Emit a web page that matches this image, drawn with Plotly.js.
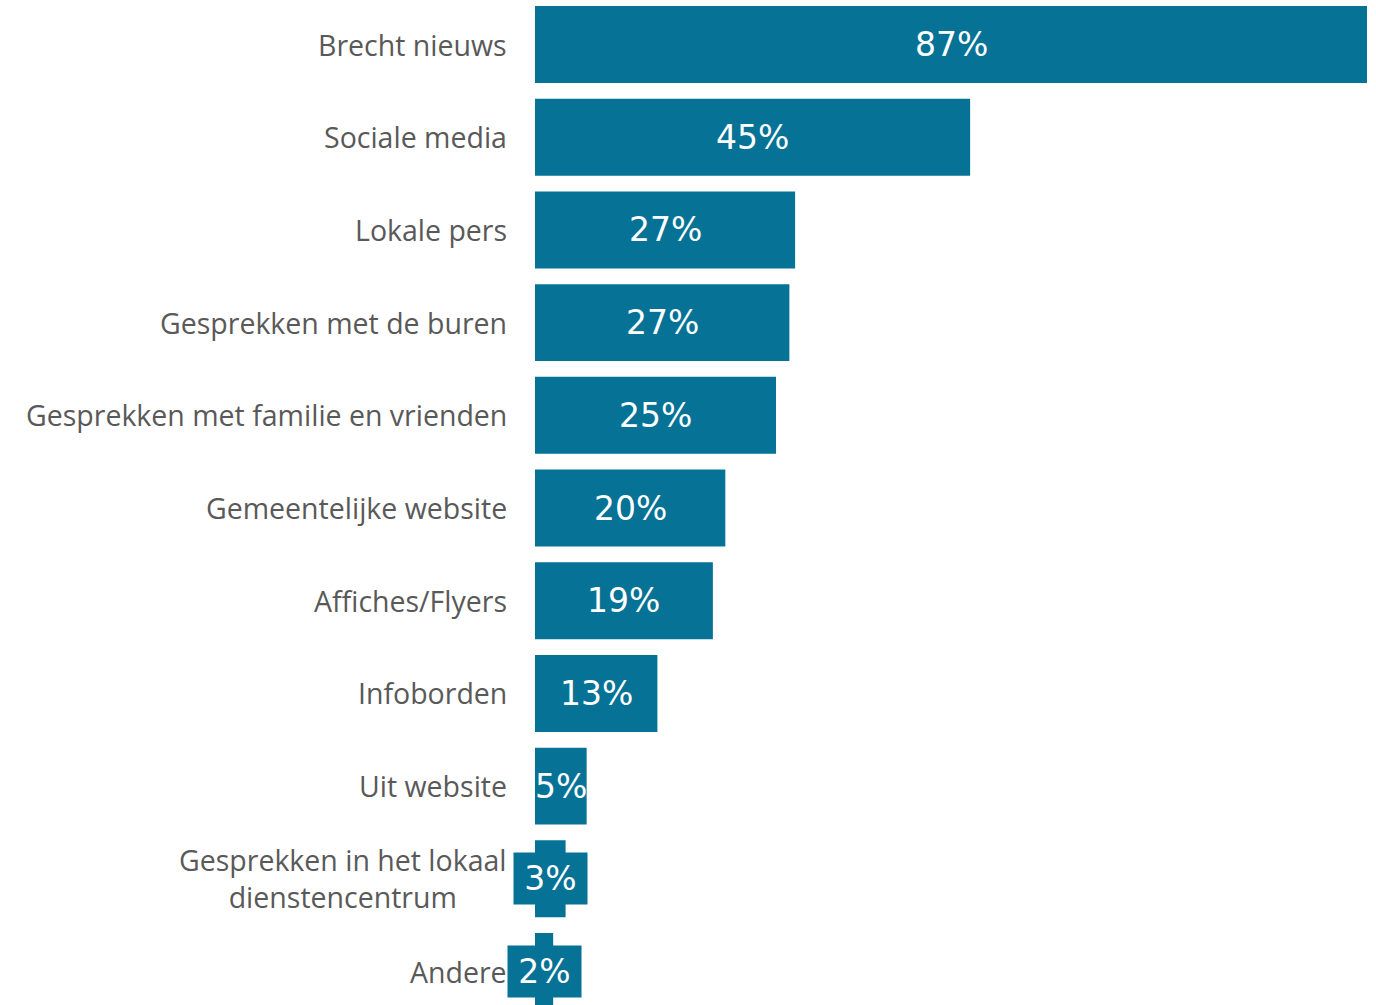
<!DOCTYPE html>
<html>
<head>
<meta charset="utf-8">
<script src="https://cdn.plot.ly/plotly-3.0.1.min.js"></script>
<style>html,body{margin:0;padding:0;background:#fff;overflow:hidden}#chart{width:1376px;height:1005px}</style>
</head>
<body>
<div id="chart"></div>
<script>
const categories = [
  "Brecht nieuws",
  "Sociale media",
  "Lokale pers",
  "Gesprekken met de buren",
  "Gesprekken met familie en vrienden",
  "Gemeentelijke website",
  "Affiches/Flyers",
  "Infoborden",
  "Uit website",
  "Gesprekken in het lokaal<br>dienstencentrum",
  "Andere"
];
const values = [87, 45.5, 27.2, 26.6, 25.2, 19.9, 18.6, 12.8, 5.4, 3.2, 1.9];
const valueLabels = ["87%", "45%", "27%", "27%", "25%", "20%", "19%", "13%", "5%", "3%", "2%"];

const barColor = "#067296";
const ids = categories.map((c, i) => i);

const trace = {
  type: "bar",
  orientation: "h",
  x: values,
  y: ids,
  marker: {color: barColor, line: {width: 0}},
  hoverinfo: "none"
};

const annotations = [];
categories.forEach((c, i) => {
  annotations.push({
    xref: "paper", yref: "y", x: 0, y: i,
    xanchor: "right", yanchor: "middle", xshift: -26,
    text: c, showarrow: false, align: "center",
    font: {family: "Open Sans, sans-serif", size: 28.5, color: "#595959"}
  });
  const small = values[i] < 4;
  const a = {
    xref: "x", yref: "y", x: values[i] / 2, y: i,
    xanchor: "center", yanchor: "middle",
    text: valueLabels[i], showarrow: false,
    font: {family: "DejaVu Sans, sans-serif", size: 33, color: "#ffffff"}
  };
  if (small) {
    a.bgcolor = barColor;
    a.width = 73;
    a.height = 51;
    a.borderpad = 0;
  }
  annotations.push(a);
});

const layout = {
  width: 1376, height: 1005,
  margin: {l: 535, r: 9, t: 0, b: 0, pad: 0},
  paper_bgcolor: "#ffffff", plot_bgcolor: "#ffffff",
  showlegend: false,
  bargap: 0.17,
  xaxis: {range: [0, 87], visible: false, fixedrange: true},
  yaxis: {type: "linear", range: [10.361, -0.48], visible: false, fixedrange: true},
  annotations: annotations
};

Plotly.newPlot("chart", [trace], layout, {displayModeBar: false, staticPlot: true});
</script>
</body>
</html>
